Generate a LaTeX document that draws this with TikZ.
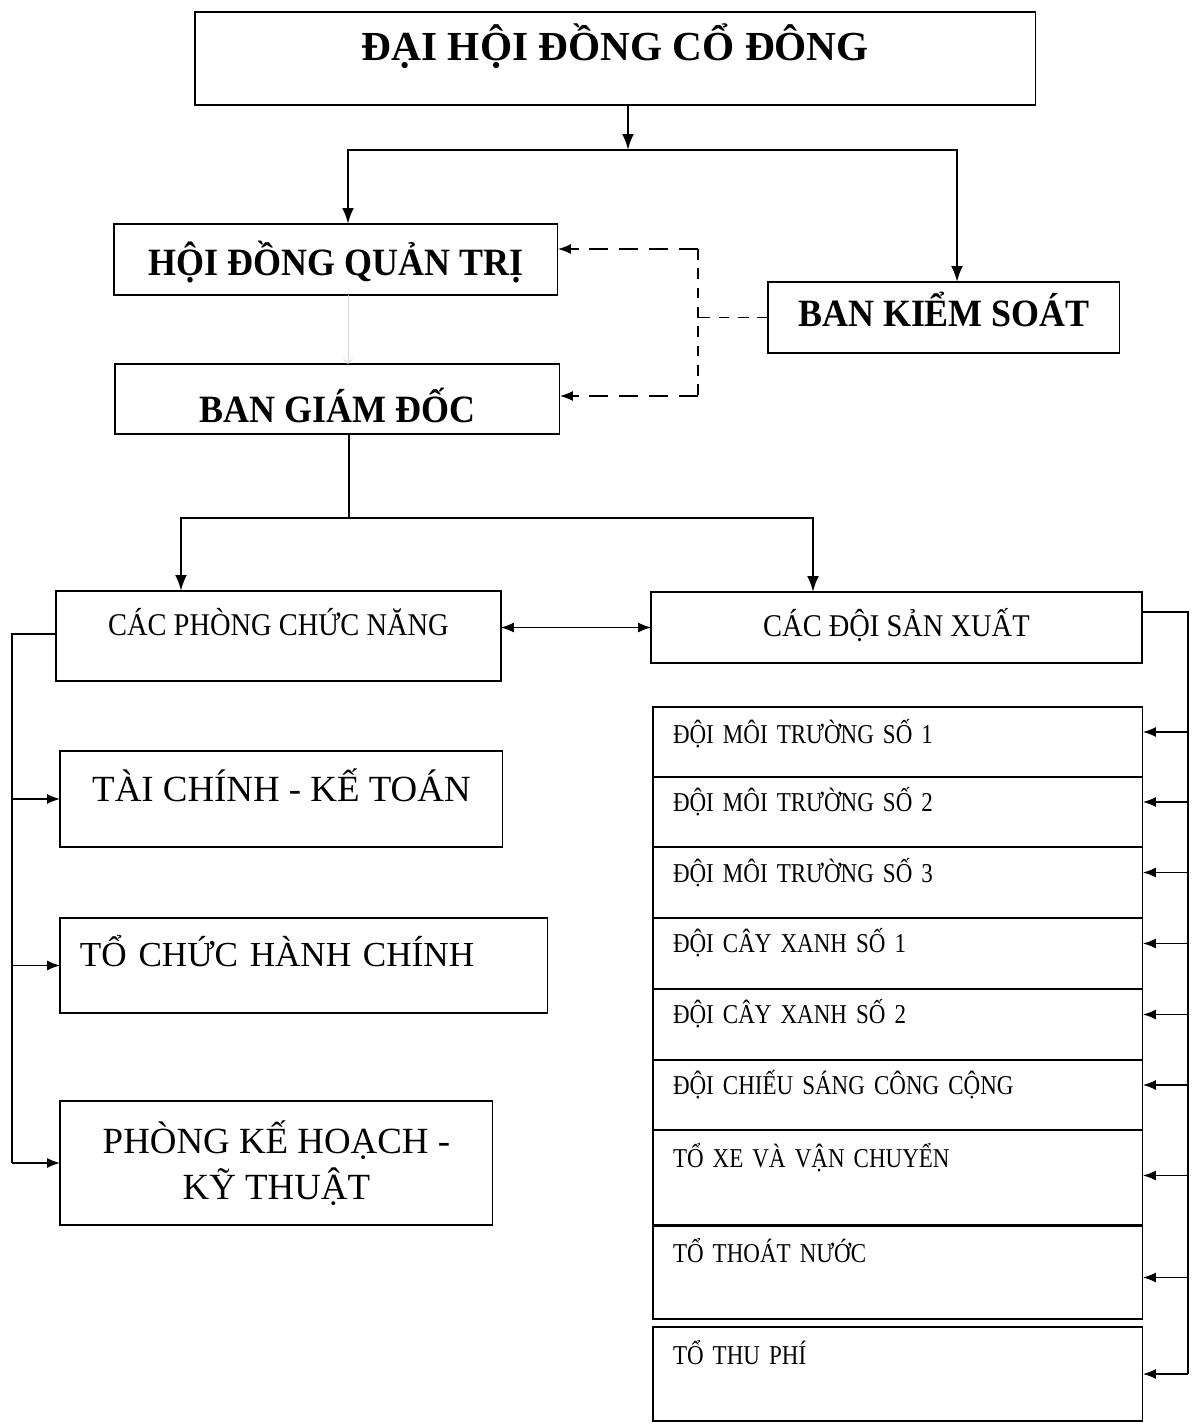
\documentclass[tikz,border=0pt]{standalone}
\usepackage{fontspec}
\setmainfont{Liberation Serif}
\newfontfamily\headfont{Liberation Serif}[FakeStretch=0.93]
\newfontfamily\bodyfont{Liberation Serif}[FakeStretch=0.9]
\newfontfamily\teamfont{Liberation Serif}[FakeStretch=0.845]
\usetikzlibrary{arrows.meta}
\begin{document}
\begin{tikzpicture}[x=0.02cm, y=-0.02cm,
    box/.style={draw, line width=0.6pt, anchor=north west, inner ysep=0pt, outer sep=0pt},
    head/.style={box, font=\headfont\bfseries\fontsize{22pt}{26pt}\selectfont},
    unit/.style={box, line width=1.6pt, font=\bodyfont\fontsize{18pt}{20pt}\selectfont},
    dept/.style={box, font=\fontsize{21pt}{26pt}\selectfont},
    team/.style={box, text width=9cm, inner xsep=0.4cm, align=left, font=\teamfont\fontsize{15.5pt}{18pt}\selectfont},
    link/.style={line width=1.4pt, -{Latex[length=3.2mm,width=2.4mm]}},
    thin link/.style={line width=0.8pt, -{Latex[length=2.6mm,width=2mm]}}]
    \useasboundingbox (0,0) rectangle (1192,1426);

    % top levels
    \node[head, minimum width=16.82cm, text height=0.98cm, text depth=0.88cm, font=\bfseries\fontsize{23.5pt}{26pt}\selectfont] (dhdcd) at (195,12) {ĐẠI HỘI ĐỒNG CỔ ĐÔNG};
    \node[head, minimum width=8.88cm, text height=1.04cm, text depth=0.38cm] (hdqt) at (114,224) {HỘI ĐỒNG QUẢN TRỊ};
    \node[head, minimum width=8.9cm, text height=1.18cm, text depth=0.22cm] (bgd) at (115,364) {BAN GIÁM ĐỐC};
    \node[head, minimum width=7.04cm, text height=0.9cm, text depth=0.52cm] (bks) at (768,282) {BAN KIỂM SOÁT};

    % units
    \node[unit, minimum width=8.9cm, text height=0.9cm, text depth=0.9cm] (cpcn) at (56,591) {CÁC PHÒNG CHỨC NĂNG};
    \node[unit, minimum width=9.82cm, text height=0.9cm, text depth=0.52cm] (cdsx) at (651,592) {CÁC ĐỘI SẢN XUẤT};

    % departments
    \node[dept, minimum width=8.86cm, text height=1.0cm, text depth=0.92cm] (tckt) at (60,751) {TÀI CHÍNH - KẾ TOÁN};
    \node[dept, text width=8.96cm, inner xsep=0.4cm, align=left, text height=0.96cm, text depth=0.94cm, font=\fontsize{20pt}{26pt}\selectfont] (tchc) at (60,918) {TỔ CHỨC HÀNH CHÍNH};
    \node[dept, minimum width=8.66cm, minimum height=2.48cm, align=center] (pkhkt) at (60,1101) {PHÒNG KẾ HOẠCH -\\KỸ THUẬT};

    % teams
    \node[team, text height=0.72cm, text depth=0.68cm] (t1) at (653,707) {ĐỘI MÔI TRƯỜNG SỐ 1};
    \node[team, text height=0.68cm, text depth=0.72cm] (t2) at (653,777) {ĐỘI MÔI TRƯỜNG SỐ 2};
    \node[team, text height=0.7cm, text depth=0.72cm] (t3) at (653,847) {ĐỘI MÔI TRƯỜNG SỐ 3};
    \node[team, text height=0.68cm, text depth=0.74cm] (t4) at (653,918) {ĐỘI CÂY XANH SỐ 1};
    \node[team, text height=0.68cm, text depth=0.74cm] (t5) at (653,989) {ĐỘI CÂY XANH SỐ 2};
    \node[team, text height=0.68cm, text depth=0.72cm] (t6) at (653,1060) {ĐỘI CHIẾU SÁNG CÔNG CỘNG};
    \node[team, text height=0.74cm, text depth=1.16cm] (t7) at (653,1130) {TỔ XE VÀ VẬN CHUYỂN};
    \node[team, text height=0.72cm, text depth=1.14cm] (t8) at (653,1226) {TỔ THOÁT NƯỚC};
    \node[team, text height=0.74cm, text depth=1.14cm] (t9) at (653,1327) {TỔ THU PHÍ};

    % tree
    \coordinate (jtop) at (628,150);
    \coordinate (jl) at (348,150);
    \coordinate (jr) at (957,150);
    \draw[link] (dhdcd.south -| jtop) -- (jtop);
    \draw[link] (jtop) -| (jl |- hdqt.north);
    \draw[link] (jtop) -| (jr |- bks.north);
    \draw[gray!30, line width=0.5pt, ->] (hdqt.south -| jl) -- (bgd.north -| jl);

    \coordinate (dtop) at (698,249);
    \coordinate (dbot) at (698,396);
    \draw[dashed, dash pattern=on 6pt off 5pt, line width=0.7pt] (bks.west) -- (bks.west -| dtop);
    \draw[dashed, dash pattern=on 6pt off 5pt, line width=0.7pt] (dtop) -- (dbot);
    \draw[dashed, dash pattern=on 11pt off 6pt, line width=0.9pt, -{Latex[length=2.6mm,width=2mm]}] (dtop) -- (hdqt.east |- dtop);
    \draw[dashed, dash pattern=on 11pt off 6pt, line width=0.9pt, -{Latex[length=2.6mm,width=2mm]}] (dbot) -- (bgd.east |- dbot);

    \coordinate (jmid) at (349,518);
    \coordinate (jcl) at (181,518);
    \coordinate (jcr) at (813,518);
    \draw[line width=1.4pt] (bgd.south -| jmid) -- (jmid);
    \draw[link] (jmid) -| (jcl |- cpcn.north);
    \draw[link] (jmid) -| (jcr |- cdsx.north);
    \draw[line width=0.6pt, {Latex[length=2.6mm,width=2mm]}-{Latex[length=2.6mm,width=2mm]}] (cpcn.east |- cdsx.west) -- (cdsx.west);

    % left bracket
    \coordinate (lb) at (12,634);
    \draw[line width=0.8pt] (cpcn.west |- lb) -- (lb) -- (lb |- pkhkt.west);
    \foreach \n in {tckt,tchc,pkhkt}
        \draw[thin link] (lb |- \n.west) -- (\n.west);

    % right bracket
    \coordinate (rb) at (1188,612);
    \draw[line width=0.8pt] (cdsx.east |- rb) -- (rb) -- (rb |- t9.east);
    \foreach \n/\dy in {t1/10,t2/10,t3/10,t4/10,t5/10,t6/10,t7/2,t8/-5,t9/0} {
        \coordinate (tip) at ([yshift=\dy*0.02cm]\n.east);
        \draw[thin link] (rb |- tip) -- (tip);
    }
\end{tikzpicture}
\end{document}
